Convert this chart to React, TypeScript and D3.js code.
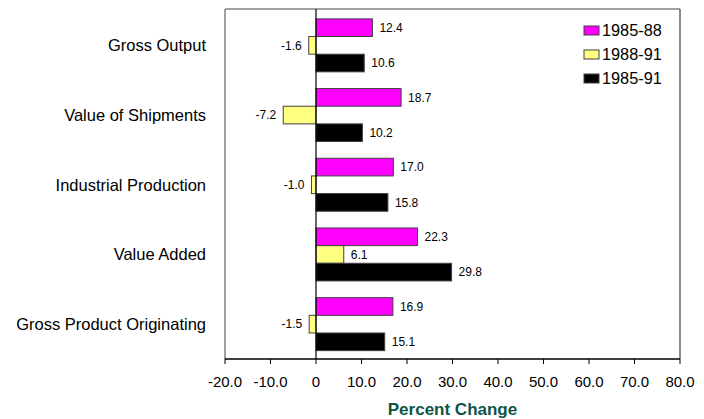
import React from "react";
import * as d3 from "d3";

const categories = [
  "Gross Output",
  "Value of Shipments",
  "Industrial Production",
  "Value Added",
  "Gross Product Originating",
];
const seriesNames = ["1985-88", "1988-91", "1985-91"];
const values8588 = [12.4, 18.7, 17.0, 22.3, 16.9];
const values8891 = [-1.6, -7.2, -1.0, 6.1, -1.5];
const values8591 = [10.6, 10.2, 15.8, 29.8, 15.1];
const tickValues = [-20, -10, 0, 10, 20, 30, 40, 50, 60, 70, 80];
const colors = ["#ff00ff", "#ffff80", "#000000"];

const W = 704;
const H = 419;
const L = 225, R = 680, T = 9, B = 359;

export default function App() {
  const seriesValues = [values8588, values8891, values8591];
  const x = d3.scaleLinear().domain([-20, 80]).range([L, R]);
  const y = d3.scaleBand<string>().domain(categories).range([T + 1.5, B]).paddingInner(0.24).paddingOuter(0.12);
  const sub = d3.scaleBand<string>().domain(seriesNames).range([0, y.bandwidth()]);
  const font = "'Liberation Sans', Arial, sans-serif";
  const fmt = (v: number) => v.toFixed(1);
  const tickFmt = (v: number) => (v === 0 ? "0" : v.toFixed(1));

  return (
    <svg width={W} height={H} style={{ position: "absolute", left: 0, top: 0 }} fontFamily={font}>
      <rect x={0} y={0} width={W} height={H} fill="#ffffff" />
      {/* frame */}
      <line x1={L} y1={T} x2={R} y2={T} stroke="#808080" strokeWidth={1.5} />
      <line x1={L} y1={T} x2={L} y2={B} stroke="#808080" strokeWidth={1.5} />
      <line x1={R} y1={T} x2={R} y2={B} stroke="#404040" strokeWidth={1.2} />
      {/* bars */}
      {categories.map((c, ci) => (
        <g key={c}>
          {seriesNames.map((s, si) => {
            const v = seriesValues[si][ci];
            const y0 = (y(c) as number) + (sub(s) as number);
            const h = sub.bandwidth();
            const x0 = Math.min(x(0), x(v));
            const w = Math.abs(x(v) - x(0));
            return (
              <g key={s}>
                <rect x={x0} y={y0} width={w} height={h} fill={colors[si]} stroke="#404040" strokeWidth={1} />
                <text
                  x={v >= 0 ? x(v) + 7 : x(v) - 7}
                  y={y0 + h / 2}
                  dy="0.35em"
                  textAnchor={v >= 0 ? "start" : "end"}
                  fontSize={12}
                  fill="#000"
                >
                  {fmt(v)}
                </text>
              </g>
            );
          })}
          <text x={206} y={(y(c) as number) + y.bandwidth() / 2} dy="0.35em" textAnchor="end" fontSize={16.5} fill="#000">
            {c}
          </text>
        </g>
      ))}
      {/* zero line */}
      <line x1={x(0)} y1={T} x2={x(0)} y2={B} stroke="#000" strokeWidth={1.2} />
      {/* x axis */}
      <line x1={L} y1={B} x2={R} y2={B} stroke="#000" strokeWidth={1.5} />
      {tickValues.map((t) => (
        <g key={t}>
          <line x1={x(t)} y1={B} x2={x(t)} y2={B + 5} stroke="#000" strokeWidth={1} />
          <text x={x(t)} y={387} textAnchor="middle" fontSize={15} fill="#000">
            {tickFmt(t)}
          </text>
        </g>
      ))}
      <text x={(L + R) / 2} y={415} textAnchor="middle" fontSize={17} fontWeight="bold" fill="#0d5548">
        Percent Change
      </text>
      {/* legend */}
      {seriesNames.map((s, i) => (
        <g key={s}>
          <rect x={584} y={26 + i * 24} width={15} height={9} fill={colors[i]} stroke="#404040" strokeWidth={1} />
          <text x={602} y={30.5 + i * 24} dy="0.35em" fontSize={16.3} fill="#000">
            {s}
          </text>
        </g>
      ))}
    </svg>
  );
}
